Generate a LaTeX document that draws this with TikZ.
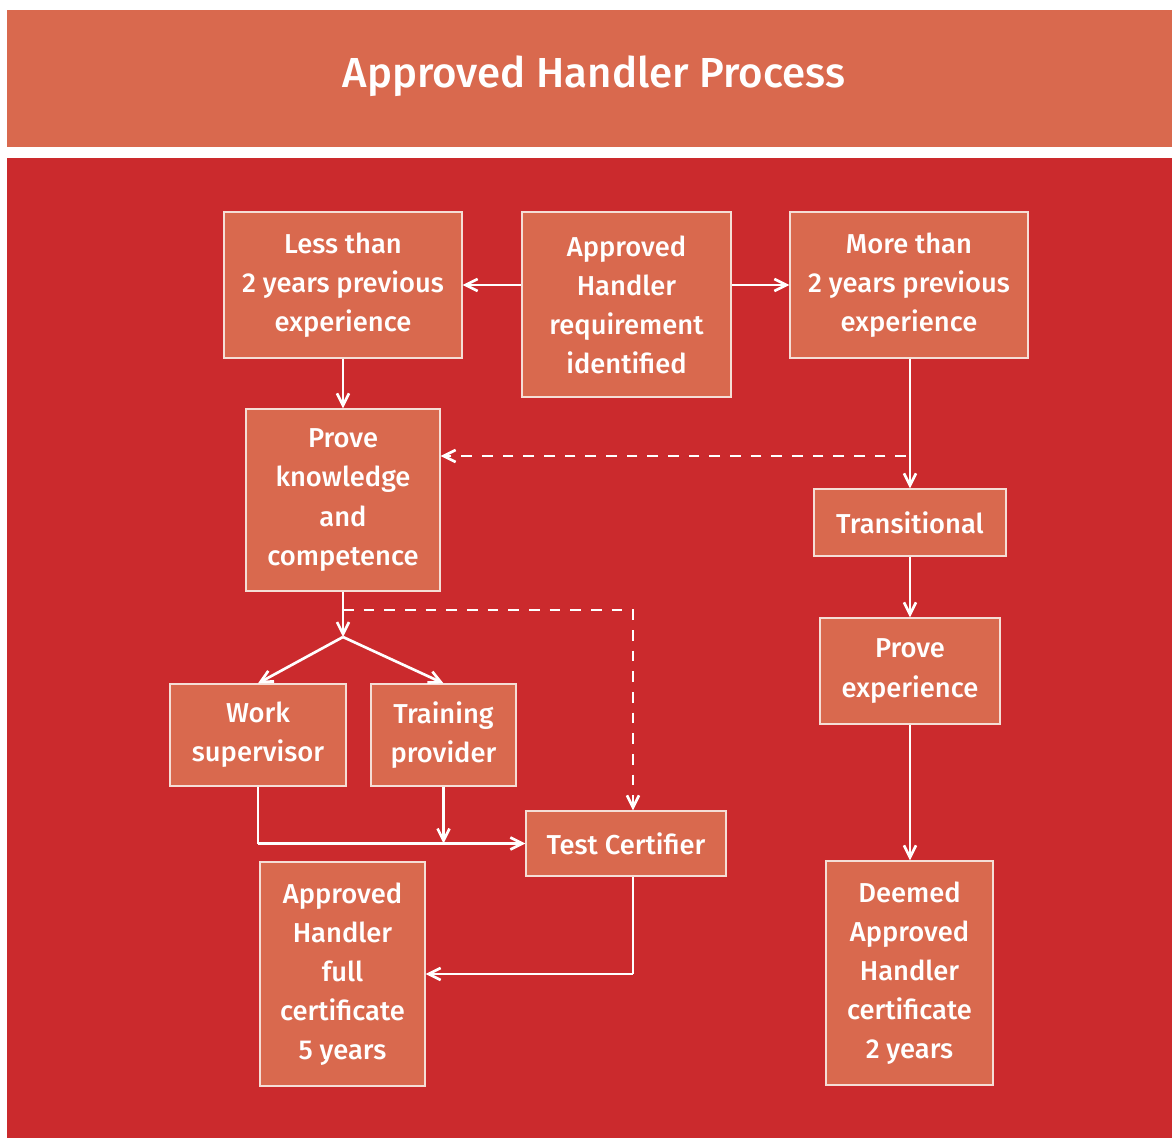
\documentclass[tikz,border=0pt]{standalone}
\usepackage{fontspec}
\setmainfont{Fira Sans}[UprightFont={* Medium}]
\usepackage{xcolor}
\usetikzlibrary{arrows.meta}

\definecolor{headfill}{RGB}{217,105,78}
\definecolor{pagered}{RGB}{203,42,45}
\definecolor{boxfill}{RGB}{217,105,78}
\definecolor{boxline}{RGB}{245,222,214}

\begin{document}
\begin{tikzpicture}[x=0.75pt,y=0.75pt,yscale=-1,xscale=1,
  stepbox/.style={draw=boxline,fill=boxfill,line width=1pt,text=white,align=center,
    inner sep=0pt,font=\fontsize{20.5}{29.3}\selectfont},
  arr/.style={draw=white,line width=2pt,-{Straight Barb[length=9pt,width=9pt]}},
  plain/.style={draw=white,line width=2pt},
  dashline/.style={dash pattern=on 8pt off 7.5pt}]
\useasboundingbox (0,0) rectangle (1172,1138);

%Shape: Rectangle [header]
\fill [headfill] (7,10) rectangle (1172,147);
%Shape: Rectangle [background]
\fill [pagered] (7,158) rectangle (1172,1138);

% Text Node
\node [text=white,font=\fontsize{31.5}{36}\selectfont] (title) at (594,76) {Approved Handler Process};

% Boxes
\node [stepbox,minimum width=178.5pt,minimum height=109.5pt] (less) at (343,285) {Less than\\2 years previous\\experience};
\node [stepbox,minimum width=156.75pt,minimum height=138.75pt] (req) at (626.5,304.5) {Approved\\Handler\\requirement\\identified};
\node [stepbox,minimum width=178.5pt,minimum height=109.5pt] (more) at (909,285) {More than\\2 years previous\\experience};
\node [stepbox,minimum width=145.5pt,minimum height=136.5pt] (prove) at (343,500) {Prove\\knowledge\\and\\competence};
\node [stepbox,minimum width=144pt,minimum height=50.25pt] (trans) at (910,522.5) {Transitional};
\node [stepbox,minimum width=135pt,minimum height=79.5pt] (provexp) at (910,671) {Prove\\experience};
\node [stepbox,minimum width=132pt,minimum height=76.5pt] (work) at (258,735) {Work\\supervisor};
\node [stepbox,minimum width=108.75pt,minimum height=76.5pt] (training) at (443.5,735) {Training\\provider};
\node [stepbox,minimum width=150pt,minimum height=48.75pt] (test) at (626,843.5) {Test Certifier};
\node [stepbox,minimum width=123.75pt,minimum height=168pt] (full) at (342.5,974) {Approved\\Handler\\full\\certificate\\5 years};
\node [stepbox,minimum width=125.25pt,minimum height=168pt] (deemed) at (909.5,973) {Deemed\\Approved\\Handler\\certificate\\2 years};

% Points
\coordinate (split) at (343,637);
\coordinate (dstart) at (343,610);
\coordinate (dturn) at (633,610);
\coordinate (branch) at (906,456);

% Connectors
\draw [arr] (req.west |- less.east) -- (less.east);
\draw [arr] (req.east |- more.west) -- (more.west);
\draw [arr] (less.south) -- (prove.north);
\draw [arr] (more.south -| trans.north) -- (trans.north);
\draw [arr,dashline] (branch) -- (branch -| prove.east);
\draw [arr] (prove.south) -- (split);
\draw [arr] (split) -- (work.north);
\draw [arr] (split) -- (training.north);
\draw [arr,dashline] (dstart) -- (dturn) -- (dturn |- test.north);
\draw [plain] (work.south) -- (work.south |- test.west);
\draw [arr] (work.south |- test.west) -- (test.west);
\draw [arr] (training.south) -- (training.south |- test.west);
\draw [plain] (dturn |- test.south) -- (dturn |- full.east);
\draw [arr] (dturn |- full.east) -- (full.east);
\draw [arr] (trans.south) -- (provexp.north);
\draw [arr] (provexp.south) -- (provexp.south |- deemed.north);

\end{tikzpicture}
\end{document}
